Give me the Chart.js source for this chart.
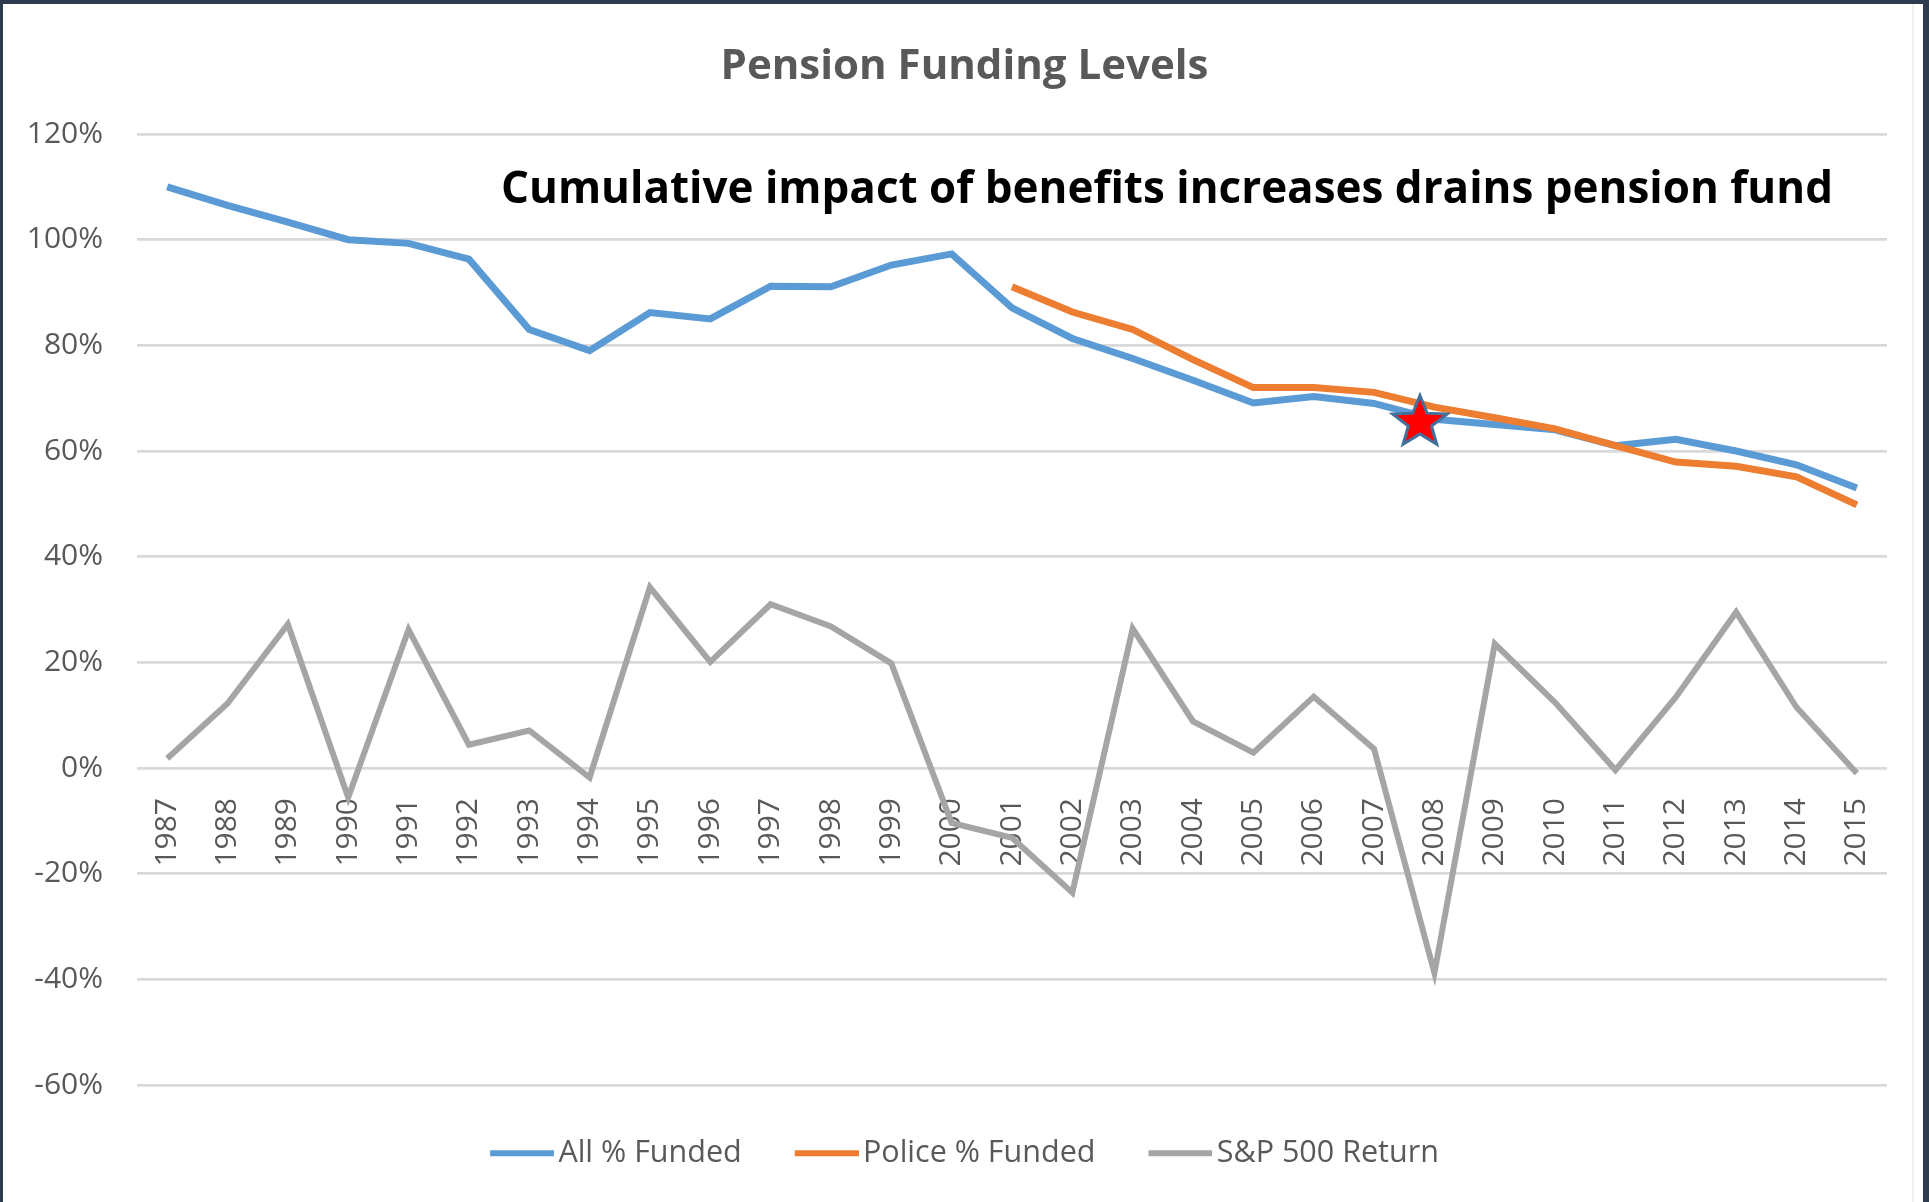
<!DOCTYPE html>
<html>
<head>
<meta charset="utf-8">
<script src="https://cdn.jsdelivr.net/npm/chart.js@4.4.1/dist/chart.umd.min.js"></script>
<style>
  html, body { margin: 0; padding: 0; background: #ffffff; overflow: hidden; }
  #wrap { width: 1929px; height: 1202px; position: relative; }
  canvas { display: block; }
</style>
</head>
<body>
<div id="wrap"><canvas id="chart" width="1929" height="1202"></canvas></div>
<script>
// ---------------- data ----------------
const years = ['1987','1988','1989','1990','1991','1992','1993','1994','1995','1996',
               '1997','1998','1999','2000','2001','2002','2003','2004','2005','2006',
               '2007','2008','2009','2010','2011','2012','2013','2014','2015'];

const allFunded = [110, 106.5, 103.3, 100, 99.3, 96.3, 83, 79, 86.2, 85,
                   91.2, 91.1, 95.2, 97.3, 87.1, 81.3, 77.5, 73.4, 69.1, 70.3,
                   69, 66, 65, 64, 61, 62.2, 60, 57.4, 53];

const policeFunded = [null, null, null, null, null, null, null, null, null, null,
                      null, null, null, null, 91.1, 86.3, 83, 77.3, 72, 72,
                      71.1, 68.3, 66.3, 64.2, 61, 57.9, 57.1, 55.1, 49.8];

const sp500Return = [1.8, 12.2, 27.2, -5.6, 26.2, 4.4, 7.1, -1.8, 34.2, 20.1,
                     31.0, 26.8, 19.8, -10.4, -13.2, -23.6, 26.4, 8.8, 2.9, 13.5,
                     3.6, -38.8, 23.5, 12.4, -0.4, 13.4, 29.5, 11.5, -1.0];

const seriesNames = ['All % Funded', 'Police % Funded', 'S&P 500 Return'];
const seriesColors = ['#5b9bd5', '#ed7d31', '#a5a5a5'];
const yMin = -60, yMax = 120, yStep = 20;
const starIndex = 20.76;   // position along the year axis (between 2007 and 2008)
const starValue = 65.4;    // percent
const chartTitle = 'Pension Funding Levels';
const noteText = 'Cumulative impact of benefits increases drains pension fund';

// ---------------- styling ----------------
const FONT = '"Open Sans", "Noto Sans", sans-serif';
const TEXT_GRAY = '#595959';
const GRID = '#d9d9d9';

// legend swatch: a short line whose left end sits at the item's left edge
function makeSwatch(color) {
  const c = document.createElement('canvas');
  c.width = 75; c.height = 8;
  const g = c.getContext('2d');
  g.strokeStyle = color;
  g.lineWidth = 6;
  g.beginPath();
  g.moveTo(11, 4);
  g.lineTo(75, 4);
  g.stroke();
  return c;
}

const decorPlugin = {
  id: 'decor',
  beforeDraw(chart) {
    const ctx = chart.ctx;
    ctx.save();
    ctx.fillStyle = '#ffffff';
    ctx.fillRect(0, 0, chart.width, chart.height);
    ctx.restore();
  },
  afterDatasetsDraw(chart) {
    const ctx = chart.ctx;
    const cx = chart.scales.x.getPixelForValue(starIndex);
    const cy = chart.scales.y.getPixelForValue(starValue);
    const R = 27, r = 11.5;
    ctx.save();
    ctx.beginPath();
    for (let i = 0; i < 10; i++) {
      const rad = i % 2 === 0 ? R : r;
      const a = -Math.PI / 2 + i * Math.PI / 5;
      const px = cx + rad * Math.cos(a) * 1.06;
      const py = cy + rad * Math.sin(a);
      if (i === 0) ctx.moveTo(px, py); else ctx.lineTo(px, py);
    }
    ctx.closePath();
    ctx.fillStyle = '#ff0000';
    ctx.fill();
    ctx.lineWidth = 3;
    ctx.strokeStyle = '#41719c';
    ctx.lineJoin = 'miter';
    ctx.stroke();
    ctx.restore();
  },
  afterDraw(chart) {
    const ctx = chart.ctx;
    // annotation text
    ctx.save();
    ctx.font = 'bold 44px ' + FONT;
    ctx.fillStyle = '#000000';
    ctx.textBaseline = 'alphabetic';
    ctx.textAlign = 'left';
    const w = ctx.measureText(noteText).width;
    const targetW = 1332;
    const sx = targetW / w;
    ctx.translate(501, 203);
    ctx.scale(sx, 1);
    ctx.fillText(noteText, 0, 0);
    ctx.restore();
    // dark frame edges
    ctx.save();
    ctx.fillStyle = '#2e3a4e';
    ctx.fillRect(0, 0, chart.width, 4);
    ctx.fillRect(0, 0, 3, chart.height);
    ctx.fillRect(chart.width - 6, 0, 6, chart.height);
    ctx.fillStyle = '#f0f0f0';
    ctx.fillRect(chart.width - 17, 4, 2, chart.height - 4);
    ctx.restore();
  }
};

function build() {
  const ctx = document.getElementById('chart').getContext('2d');
  new Chart(ctx, {
    type: 'line',
    data: {
      labels: years,
      datasets: [
        { label: seriesNames[0], data: allFunded, borderColor: seriesColors[0], backgroundColor: seriesColors[0],
          borderWidth: 7, pointRadius: 0, tension: 0, order: 0, pointStyle: makeSwatch(seriesColors[0]) },
        { label: seriesNames[1], data: policeFunded, borderColor: seriesColors[1], backgroundColor: seriesColors[1],
          borderWidth: 7, pointRadius: 0, tension: 0, order: -1, spanGaps: false, pointStyle: makeSwatch(seriesColors[1]) },
        { label: seriesNames[2], data: sp500Return, borderColor: seriesColors[2], backgroundColor: seriesColors[2],
          borderWidth: 6, pointRadius: 0, tension: 0, order: 1, pointStyle: makeSwatch(seriesColors[2]) }
      ]
    },
    options: {
      responsive: false,
      animation: false,
      devicePixelRatio: 1,
      layout: { padding: { left: 0, right: 0, top: 0, bottom: 23.5 } },
      plugins: {
        title: {
          display: true,
          text: chartTitle,
          color: TEXT_GRAY,
          font: { family: FONT, size: 42, weight: 'bold', lineHeight: 1.2 },
          padding: { top: 41.8, bottom: 41.8 }
        },
        legend: {
          display: true,
          position: 'bottom',
          labels: {
            usePointStyle: true,
            pointStyleWidth: 53,
            color: TEXT_GRAY,
            font: { family: FONT, size: 30.5 },
            padding: 53,
            sort: (a, b) => a.datasetIndex - b.datasetIndex
          }
        },
        tooltip: { enabled: false }
      },
      scales: {
        x: {
          type: 'category',
          offset: true,
          position: { y: 0 },
          grid: { display: false },
          border: { display: false },
          ticks: {
            autoSkip: false,
            minRotation: 90,
            maxRotation: 90,
            padding: 22,
            color: TEXT_GRAY,
            font: { family: FONT, size: 30 }
          }
        },
        y: {
          min: yMin,
          max: yMax,
          afterFit(scale) { scale.width = 137; },
          grid: { color: GRID, lineWidth: 2.7, drawTicks: false },
          border: { display: false },
          ticks: {
            stepSize: yStep,
            padding: 34,
            color: TEXT_GRAY,
            font: { family: FONT, size: 30 },
            callback: (v) => v + '%'
          }
        },
        yRight: {
          type: 'linear',
          position: 'right',
          display: true,
          afterFit(scale) { scale.width = 42; },
          grid: { display: false, drawOnChartArea: false },
          border: { display: false },
          ticks: { display: false }
        }
      }
    },
    plugins: [decorPlugin]
  });
}

Promise.all([
  document.fonts.load('30px "Open Sans"'),
  document.fonts.load('bold 42px "Open Sans"'),
  document.fonts.load('bold 44px "Open Sans"')
]).then(build, build);
</script>
</body>
</html>
